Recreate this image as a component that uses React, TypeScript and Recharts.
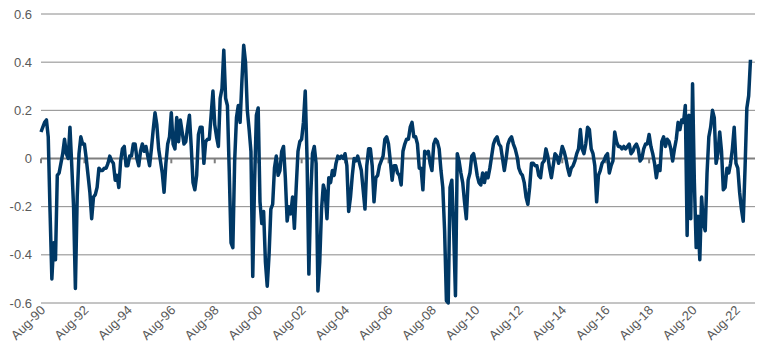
import React from 'react';
import { LineChart, Line, XAxis, YAxis, CartesianGrid, ReferenceLine } from 'recharts';

// monthly readings, Aug-90 .. Apr-23
const values: number[] = [
  0.11, 0.13, 0.15, 0.16, 0.09, -0.22, -0.5, -0.35, -0.42, -0.07,
  -0.06, -0.02, 0.02, 0.08, 0.02, 0.0, 0.13, -0.03, -0.2, -0.54,
  -0.16, 0.02, 0.09, 0.06, 0.06, 0.0, -0.07, -0.14, -0.25, -0.16,
  -0.15, -0.12, -0.04, -0.05, -0.05, -0.04, -0.04, -0.02, 0.01, -0.01,
  -0.02, -0.09, -0.07, -0.12, -0.01, 0.04, 0.05, -0.03, -0.03, 0.01,
  0.01, 0.06, 0.06, 0.0, -0.03, 0.03, 0.06, 0.03, 0.05, 0.01,
  -0.03, 0.04, 0.12, 0.19, 0.14, 0.04, -0.01, -0.06, -0.14, -0.02,
  0.06, 0.09, 0.19, 0.06, 0.04, 0.17, 0.07, 0.16, 0.11, 0.06,
  0.07, 0.13, 0.18, 0.05, -0.1, -0.13, -0.07, 0.1, 0.13, 0.13,
  -0.02, 0.07, 0.08, 0.08, 0.18, 0.28, 0.14, 0.09, 0.05, 0.25,
  0.29, 0.45, 0.25, 0.22, -0.05, -0.35, -0.37, -0.01, 0.17, 0.22,
  0.15, 0.32, 0.47, 0.4, 0.2, 0.12, 0.03, -0.49, -0.1, 0.18,
  0.21, -0.18, -0.27, -0.22, -0.43, -0.53, -0.4, -0.21, -0.19, -0.04,
  0.01, -0.07, -0.05, 0.03, 0.05, -0.08, -0.26, -0.2, -0.23, -0.16,
  -0.29, -0.12, 0.03, 0.07, 0.08, 0.15, 0.28, 0.0, -0.48, -0.16,
  0.02, 0.05, -0.02, -0.55, -0.43, -0.21, -0.11, -0.14, -0.25, -0.08,
  -0.1, -0.05, -0.07, -0.02, 0.01, 0.0, 0.01, 0.0, 0.02, -0.03,
  -0.22, -0.16, -0.07, 0.0, -0.01, 0.01, -0.02, -0.05, -0.13, -0.21,
  -0.03, 0.04, 0.04, -0.03, -0.18, -0.08, -0.07, -0.03, -0.01, 0.01,
  0.08, 0.09, 0.06, -0.01, -0.09, -0.03, -0.03, -0.06, -0.07, -0.11,
  0.03, 0.06, 0.08, 0.08, 0.13, 0.15, 0.09, 0.09, 0.06, -0.04,
  -0.04, -0.13, 0.03, 0.02, 0.03, -0.02, -0.05, 0.06, 0.08, 0.07,
  0.04, -0.05, -0.12, -0.3, -0.59, -0.6, -0.12, -0.09, -0.3, -0.57,
  0.02, -0.01, -0.06, -0.1, -0.18, -0.25, -0.09, -0.06, 0.01, 0.02,
  -0.02, -0.07, -0.1, -0.11, -0.06, -0.1, -0.06, -0.08, -0.04, 0.01,
  0.06, 0.08, 0.09, 0.06, 0.05, 0.0, -0.05, 0.0, 0.06, 0.08,
  0.09, 0.06, 0.04, 0.01, -0.04, -0.06, -0.07, -0.1, -0.16, -0.19,
  -0.12, -0.02, -0.02, -0.03, -0.03, -0.07, -0.08, -0.02, -0.01, 0.04,
  0.01, -0.04, -0.08, -0.03, 0.02, 0.01, -0.02, 0.01, 0.05, 0.03,
  0.0, -0.04, -0.07, -0.04, -0.03, -0.01, 0.02, 0.04, 0.12, 0.04,
  0.02, 0.06, 0.13, 0.12, 0.04, 0.02, -0.03, -0.18, -0.07, -0.05,
  -0.02, -0.01, 0.01, 0.02, -0.06, -0.03, -0.01, 0.11, 0.07, 0.05,
  0.05, 0.04, 0.05, 0.04, 0.05, 0.06, 0.02, 0.03, 0.05, 0.06,
  0.04, -0.01, 0.0, 0.04, 0.06, 0.06, 0.1, 0.05, 0.02, -0.02,
  -0.08, -0.03, -0.05, 0.07, 0.09, 0.05, 0.08, 0.07, 0.04, -0.01,
  0.04, 0.08, 0.15, 0.12, 0.16, 0.15, 0.22, -0.32, 0.18, -0.25,
  0.31, -0.1, -0.37, -0.24, -0.42, -0.16, -0.27, -0.3, -0.06, 0.09,
  0.13, 0.2, 0.17, -0.02, 0.02, 0.11, 0.03, -0.13, -0.12, -0.04,
  -0.06, -0.02, 0.04, 0.13, -0.02, -0.04, -0.14, -0.21, -0.26, -0.04,
  0.21, 0.26, 0.41,
];

const xLabels = [
  'Aug-90', 'Aug-92', 'Aug-94', 'Aug-96', 'Aug-98', 'Aug-00', 'Aug-02', 'Aug-04', 'Aug-06',
  'Aug-08', 'Aug-10', 'Aug-12', 'Aug-14', 'Aug-16', 'Aug-18', 'Aug-20', 'Aug-22',
];
const xTicks = xLabels.map((_, i) => i * 24);
const yTicks = [-0.6, -0.4, -0.2, 0, 0.2, 0.4, 0.6];

const data = values.map((v, i) => ({ m: i, v }));

const fontFamily = '"Liberation Sans", Arial, sans-serif';
const textColor = '#595959';

const AngledTick = (props: any) => {
  const { x, y, payload } = props;
  const ex = x + 5;
  return (
    <text
      x={ex}
      y={y}
      textAnchor="end"
      transform={`rotate(-45, ${ex}, ${y})`}
      fill={textColor}
      fontSize={13}
      fontFamily={fontFamily}
    >
      {xLabels[Math.round(payload.value / 24)]}
    </text>
  );
};

export default function App() {
  return (
    <div style={{ position: 'absolute', left: 0, top: 0, background: '#fff' }}>
      <LineChart width={770} height={356} data={data} margin={{ top: 14, right: 15, bottom: 0, left: 0 }}>
        <CartesianGrid vertical={false} stroke="#8a8a8a" />
        <XAxis
          type="number"
          dataKey="m"
          domain={[0, 394.5]}
          ticks={xTicks}
          interval={0}
          height={53}
          axisLine={false}
          tickLine={false}
          tickSize={0}
          tickMargin={8}
          tick={<AngledTick />}
        />
        <YAxis
          domain={[-0.6, 0.6]}
          ticks={yTicks}
          width={41}
          axisLine={false}
          tickLine={false}
          tickSize={0}
          tickMargin={9}
          tick={{ fill: textColor, fontSize: 13, fontFamily }}
          tickFormatter={(v: number) => String(Math.round(v * 10) / 10)}
        />
        <ReferenceLine y={0} stroke="#7f7f7f" strokeWidth={2} />
        {xTicks.map((t) => (
          <ReferenceLine
            key={t}
            segment={[{ x: t, y: 0 }, { x: t, y: -0.02 }]}
            stroke="#7f7f7f"
            strokeWidth={2}
          />
        ))}
        <Line
          type="linear"
          dataKey="v"
          stroke="#003865"
          strokeWidth={3.5}
          strokeLinejoin="round"
          dot={false}
          isAnimationActive={false}
        />
      </LineChart>
    </div>
  );
}
